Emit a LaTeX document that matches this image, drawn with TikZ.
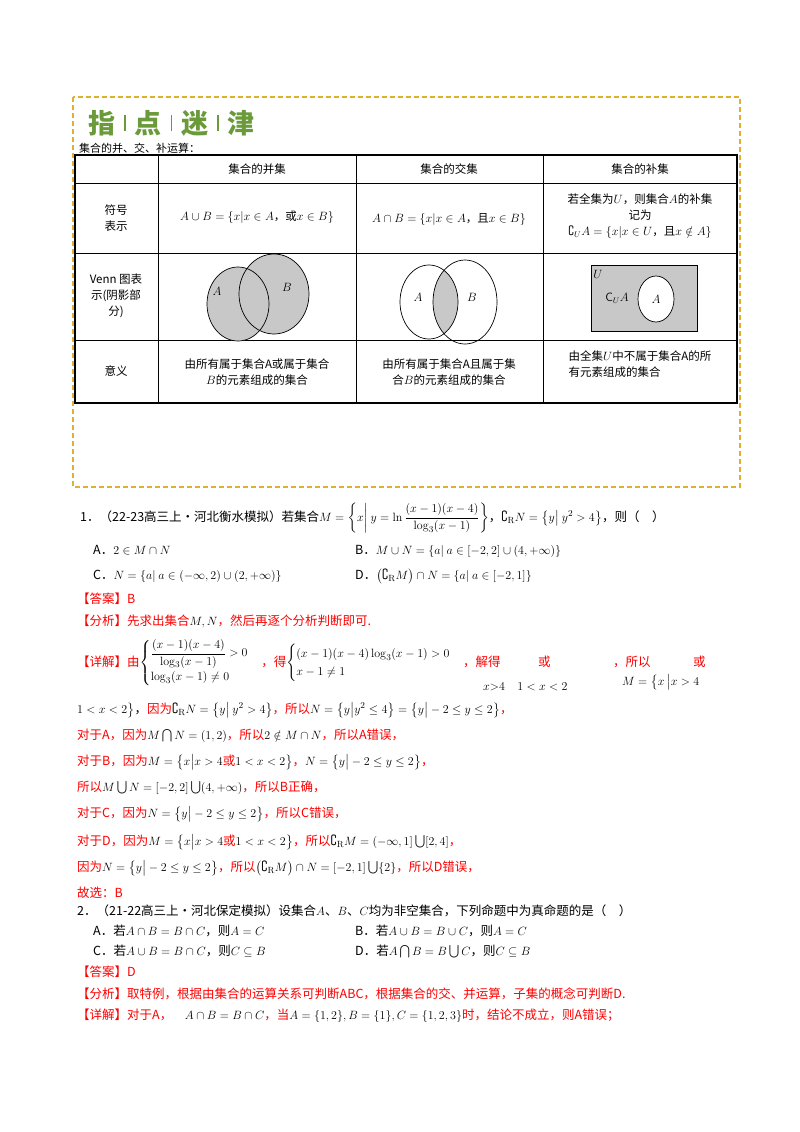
\documentclass[tikz,border=0pt]{standalone}
\usepackage[no-math]{fontspec}
\setmainfont{Noto Sans CJK SC}
\usepackage{amsmath,amssymb}
\definecolor{gold}{HTML}{E0B030}
\definecolor{ttl}{HTML}{6A9A3A}
\definecolor{rd}{HTML}{FF0000}
\definecolor{grayfill}{HTML}{C8C8C8}
\begin{document}
\begin{tikzpicture}[x=1pt,y=-1pt,
  every node/.style={inner sep=0pt,anchor=base west,font=\fontsize{12.5}{15}\selectfont},
  tb/.style={font=\fontsize{11.5}{16}\selectfont,align=center,anchor=center},
  r/.style={text=rd},
  grid/.style={line width=0.6pt},
  vc/.style={draw,line width=0.7pt}]
\useasboundingbox (0,0) rectangle (800,1132);
% dashed frame
\draw[gold,line width=1.3pt,dash pattern=on 5pt off 3pt] (73,97) rectangle (740,487);
% title
\node[font=\fontsize{27}{30}\selectfont\bfseries,text=ttl] (ttl) at (88,133) {指\hspace{9pt}\raisebox{2pt}{\rule{1.5pt}{16pt}}\hspace{9pt}点\hspace{9pt}\raisebox{2pt}{\rule{1.5pt}{16pt}}\hspace{9pt}迷\hspace{9pt}\raisebox{2pt}{\rule{1.5pt}{16pt}}\hspace{9pt}津};
\node[font=\fontsize{11}{13}\selectfont] (sub) at (79,152) {集合的并、交、补运算：};
% table
\draw[line width=1.2pt] (75,155) rectangle (737,403);
\foreach \yy in {183,253,340} \draw[grid] (75,\yy) -- (737,\yy);
\foreach \xx in {158,356,543} \draw[grid] (\xx,155) -- (\xx,403);
\node[tb] (h1) at (257,169) {集合的并集};
\node[tb] (h2) at (449,169) {集合的交集};
\node[tb] (h3) at (640,169) {集合的补集};
\node[tb] (c1) at (116,218) {符号\\表示};
\node[tb] (c2) at (116,296) {Venn 图表\\示(阴影部\\分)};
\node[tb] (c3) at (116,371) {意义};
\node[tb] (s1) at (257,217) {$A\cup B=\{x|x\in A$，或$x\in B\}$};
\node[tb] (s2) at (449,219) {$A\cap B=\{x|x\in A$，且$x\in B\}$};
\node[tb] (s3) at (640,216) {若全集为$U$，则集合$A$的补集\\记为\\$\complement_U A=\{x|x\in U$，且$x\notin A\}$};
% venn union
\fill[grayfill] (238,304) ellipse (31 and 37);
\fill[grayfill] (274,294) ellipse (35 and 40);
\draw[vc] (238,304) ellipse (31 and 37);
\draw[vc] (274,294) ellipse (35 and 40);
\node[tb] (ua) at (217,291) {$A$};
\node[tb] (ub) at (287,287) {$B$};
% venn intersection
\begin{scope}
\clip (429,302) ellipse (29 and 37);
\fill[grayfill] (465,302) ellipse (32 and 42);
\end{scope}
\draw[vc] (429,302) ellipse (29 and 37);
\draw[vc] (465,302) ellipse (32 and 42);
\node[tb] (ia) at (418,297) {$A$};
\node[tb] (ib) at (472,297) {$B$};
% complement
\draw[fill=grayfill,line width=0.8pt] (591,265) rectangle (697,331);
\draw[vc,fill=white] (656,299) ellipse (18 and 23);
\node[tb] (cu) at (598,274) {$U$};
\node[tb] (cca) at (617,298) {$\mathsf{C}_U A$};
\node[tb] (cia) at (656,299) {$A$};
\node[tb] (m1) at (257,372) {由所有属于集合A或属于集合\\$B$的元素组成的集合};
\node[tb] (m2) at (449,372) {由所有属于集合A且属于集\\合$B$的元素组成的集合};
\node[tb,align=left] (m3) at (640,364) {由全集$U$中不属于集合A的所\\有元素组成的集合};
% question 1
\node (q1) at (80,521) {1．（22-23高三上·河北衡水模拟）若集合$M=\left\{x\middle|\ y=\ln\dfrac{(x-1)(x-4)}{\log_3(x-1)}\right\}$，$\complement_{\mathrm R}N=\left\{y\middle|\ y^2>4\right\}$，则（\quad ）};
\node (o1a) at (93,554) {A．$2\in M\cap N$};
\node (o1b) at (355,554) {B．$M\cup N=\{a|\ a\in[-2,2]\cup(4,+\infty)\}$};
\node (o1c) at (93,579) {C．$N=\{a|\ a\in(-\infty,2)\cup(2,+\infty)\}$};
\node (o1d) at (355,579) {D．$\left(\complement_{\mathrm R}M\right)\cap N=\{a|\ a\in[-2,1]\}$};
\node[r] (a1) at (77,603) {【答案】B};
\node[r] (f1) at (77,625) {【分析】先求出集合\textcolor{black}{$M,N$}，然后再逐个分析判断即可.};
\node[r] (d1) at (77,666) {【详解】由\textcolor{black}{$\begin{cases}\dfrac{(x-1)(x-4)}{\log_3(x-1)}>0\\[6pt]\log_3(x-1)\neq0\end{cases}$}，得\textcolor{black}{$\begin{cases}(x-1)(x-4)\log_3(x-1)>0\\x-1\neq1\end{cases}$}，解得\hspace{3em}或\hspace{5em}，所以};
\node[r] (d1h) at (693,666) {或};
\node (d1x) at (483,690) {$x{>}4\quad 1<x<2$};
\node (d1m) at (622,685) {$M=\bigl\{x\,\big|x>4$};
\node (l1) at (77,713) {$1<x<2\bigr\}$，\textcolor{rd}{因为}$\complement_{\mathrm R}N=\bigl\{y\big|\ y^2>4\bigr\}$\textcolor{rd}{，所以}$N=\bigl\{y\big|y^2\le4\bigr\}=\bigl\{y\big|-2\le y\le2\bigr\}$\textcolor{rd}{，}};
\node[r] (l2) at (77,739) {对于A，因为\textcolor{black}{$M\bigcap N=(1,2)$}，所以\textcolor{black}{$2\notin M\cap N$}，所以A错误，};
\node[r] (l3) at (77,765) {对于B，因为\textcolor{black}{$M=\bigl\{x\big|x>4$}或\textcolor{black}{$1<x<2\bigr\}$}，\textcolor{black}{$N=\bigl\{y\big|-2\le y\le2\bigr\}$}，};
\node[r] (l4) at (77,791) {所以\textcolor{black}{$M\bigcup N=[-2,2]\bigcup(4,+\infty)$}，所以B正确，};
\node[r] (l5) at (77,817) {对于C，因为\textcolor{black}{$N=\bigl\{y\big|-2\le y\le2\bigr\}$}，所以C错误，};
\node[r] (l6) at (77,845) {对于D，因为\textcolor{black}{$M=\bigl\{x\big|x>4$}或\textcolor{black}{$1<x<2\bigr\}$}，所以\textcolor{black}{$\complement_{\mathrm R}M=(-\infty,1]\bigcup[2,4]$}，};
\node[r] (l7) at (77,871) {因为\textcolor{black}{$N=\bigl\{y\big|-2\le y\le2\bigr\}$}，所以\textcolor{black}{$\bigl(\complement_{\mathrm R}M\bigr)\cap N=[-2,1]\bigcup\{2\}$}，所以D错误，};
\node[r] (l8) at (77,897) {故选：B};
% question 2
\node (q2) at (77,915) {2．（21-22高三上·河北保定模拟）设集合$A$、$B$、$C$均为非空集合，下列命题中为真命题的是（\quad ）};
\node (o2a) at (93,935) {A．若$A\cap B=B\cap C$，则$A=C$};
\node (o2b) at (355,935) {B．若$A\cup B=B\cup C$，则$A=C$};
\node (o2c) at (93,955) {C．若$A\cup B=B\cap C$，则$C\subseteq B$};
\node (o2d) at (355,955) {D．若$A\bigcap B=B\bigcup C$，则$C\subseteq B$};
\node[r] (a2) at (77,976) {【答案】D};
\node[r] (f2) at (77,998) {【分析】取特例，根据由集合的运算关系可判断ABC，根据集合的交、并运算，子集的概念可判断D.};
\node[r] (d2) at (77,1019) {【详解】对于A，\textcolor{black}{\quad$A\cap B=B\cap C$}，当\textcolor{black}{$A=\{1,2\},B=\{1\},C=\{1,2,3\}$}时，结论不成立，则A错误；};
\end{tikzpicture}
\end{document}
